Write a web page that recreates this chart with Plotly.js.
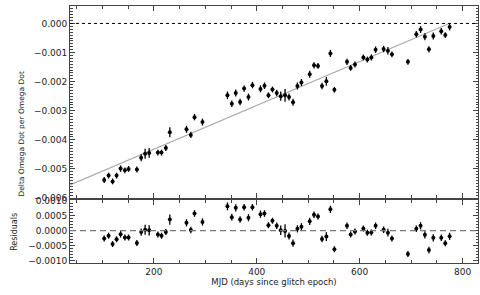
<!DOCTYPE html>
<html>
<head>
<meta charset="utf-8">
<script src="https://cdn.plot.ly/plotly-3.0.1.min.js"></script>
<style>html,body{margin:0;padding:0;background:#fff;}#chart{width:480px;height:295px;}</style>
</head>
<body>
<div id="chart"></div>
<script>
// MJD (days since glitch epoch)
const mjd = [103.5,112,119.8,127.5,135.3,143.7,150.8,167,175.3,183,190.9,207.8,214.9,223.3,231,263.4,271.8,279,294.5,
  343,351.5,359.2,367.6,375.4,383.9,391.6,407.2,415,422.7,430.5,
  438.8,446.6,455,462.7,470.5,479,486.8,
  502.9,511.3,519,526.8,535.3,543.1,550.9,
  575.4,582.5,590.9,607.2,615,622.7,631,
  646.6,654.9,662.7,
  693.8,710.1,718.4,726.8,734.6,743.1,
  758.6,766.4,774.8];
// Delta Omega Dot per Omega Dot
const dOmegaDot = [-0.00538,-0.00523,-0.00543,-0.00523,-0.00499,-0.00505,-0.00500,-0.00502,-0.00462,-0.00448,-0.00445,-0.00444,-0.00444,-0.00428,-0.00374,-0.00364,-0.00383,-0.00322,-0.00339,
  -0.00247,-0.00276,-0.00239,-0.00270,-0.00224,-0.00253,-0.00212,-0.00225,-0.00214,-0.00247,-0.00227,
  -0.00239,-0.00250,-0.00247,-0.00253,-0.00271,-0.00215,-0.00203,
  -0.00175,-0.00144,-0.00146,-0.00215,-0.00199,-0.00103,-0.00228,
  -0.00132,-0.00153,-0.00141,-0.00117,-0.00124,-0.00117,-0.00090,
  -0.00088,-0.00094,-0.00106,
  -0.00132,-0.00037,-0.00021,-0.00046,-0.00089,-0.00043,
  -0.00027,-0.00040,-0.00012];
// Residuals
const residuals = [-0.00026,-0.00017,-0.00045,-0.00029,-0.00012,-0.00023,-0.00023,-0.00041,-0.00005,0.00003,0.00001,-0.00013,-0.00017,-0.00005,0.00037,0.00026,0.00002,0.00057,0.00029,
  0.00081,0.00045,0.00076,0.00037,0.00078,0.00043,0.00078,0.00055,0.00057,0.00018,0.00033,
  0.00016,0.00001,-0.00001,-0.00018,-0.00042,0.00006,0.00013,
  0.00031,0.00053,0.00047,-0.00028,-0.00020,0.00071,-0.00062,
  0.00016,-0.00013,-0.00003,0.00007,-0.00007,-0.00006,0.00016,
  0.00003,-0.00007,-0.00026,
  -0.00078,0.00006,0.00016,-0.00014,-0.00065,-0.00024,
  -0.00024,-0.00042,-0.00019];
// 1-sigma uncertainties
const errors = [0.0001,0.0001,0.0001,0.0001,0.00011,0.0001,0.0001,0.0001,0.00012,0.00017,0.00017,0.0001,0.0001,0.0001,0.00017,0.00012,0.00011,0.00011,0.00012,
  0.00013,0.00011,0.00012,0.00011,0.00011,0.00012,0.00011,0.00012,0.00011,0.0001,0.0001,
  0.00011,0.00016,0.00022,0.00012,0.00012,0.00012,0.00012,
  0.00012,0.00011,0.0001,0.00011,0.00015,0.00012,0.0001,
  0.00011,0.0001,0.0001,0.0001,0.0001,0.0001,0.00011,
  0.00011,0.00013,0.0001,
  0.0001,0.00011,0.00012,0.00012,0.00011,0.00012,
  0.00011,0.0001,0.00012];
// linear fit line end points
const fitX = [37, 774];
const fitY = [-0.00555, 0.0];

const font = {family: 'DejaVu Sans, sans-serif', size: 9, color: '#222'};
const axisBase = {
  showline: true, linecolor: '#444', linewidth: 1, mirror: 'allticks',
  ticks: 'inside', ticklen: 5, tickcolor: '#444', tickwidth: 1,
  showgrid: false, zeroline: false, tickfont: font
};

const traces = [
  {x: fitX, y: fitY, xaxis: 'x', yaxis: 'y', mode: 'lines', line: {color: '#aaaaaa', width: 1.2}, hoverinfo: 'skip'},
  {x: mjd, y: dOmegaDot, xaxis: 'x', yaxis: 'y', mode: 'markers',
   marker: {color: '#000', size: 4, symbol: 'circle'},
   error_y: {type: 'data', array: errors, visible: true, color: '#000', thickness: 1.3, width: 0}},
  {x: mjd, y: residuals, xaxis: 'x2', yaxis: 'y2', mode: 'markers',
   marker: {color: '#000', size: 4, symbol: 'circle'},
   error_y: {type: 'data', array: errors, visible: true, color: '#000', thickness: 1.3, width: 0}}
];

const layout = {
  width: 480, height: 295,
  margin: {l: 70, r: 2, t: 6, b: 32},
  paper_bgcolor: '#fff', plot_bgcolor: '#fff',
  showlegend: false, font: font,
  xaxis: Object.assign({}, axisBase, {domain: [0, 1], range: [37, 830], anchor: 'y', dtick: 200, tick0: 0, showticklabels: false,
    minor: {dtick: 50, ticks: 'inside', ticklen: 3, tickcolor: '#444'}}),
  yaxis: Object.assign({}, axisBase, {domain: [0.2529, 1], range: [-0.006, 0.0006], anchor: 'x', dtick: 0.001, tick0: 0, tickformat: '.3f',
    minor: {dtick: 0.0001, ticks: 'inside', ticklen: 2.5, tickcolor: '#444'}}),
  xaxis2: Object.assign({}, axisBase, {domain: [0, 1], range: [37, 830], anchor: 'y2', dtick: 200, tick0: 0,
    minor: {dtick: 50, ticks: 'inside', ticklen: 3, tickcolor: '#444'},
    title: {text: 'MJD (days since glitch epoch)', font: {family: 'DejaVu Sans, sans-serif', size: 8.5, color: '#222'}, standoff: 2}}),
  yaxis2: Object.assign({}, axisBase, {domain: [0, 0.245], range: [-0.00108, 0.00102], anchor: 'x2', dtick: 0.0005, tick0: 0, tickformat: '.4f',
    minor: {dtick: 0.0001, ticks: 'inside', ticklen: 2.5, tickcolor: '#444'}}),
  shapes: [
    {type: 'line', xref: 'x domain', yref: 'y', x0: 0, x1: 1, y0: 0, y1: 0, line: {color: '#000', width: 1, dash: 'dot'}},
    {type: 'line', xref: 'x2 domain', yref: 'y2', x0: 0, x1: 1, y0: 0, y1: 0, line: {color: '#777', width: 1.2, dash: '6px,4px'}}
  ],
  annotations: [
    {text: 'Delta Omega Dot per Omega Dot', xref: 'paper', yref: 'paper', x: -0.12, y: 0.50, textangle: -90, showarrow: false,
     xanchor: 'center', yanchor: 'middle', font: {family: 'DejaVu Sans, sans-serif', size: 7.5, color: '#222'}},
    {text: 'Residuals', xref: 'paper', yref: 'paper', x: -0.138, y: 0.12, textangle: -90, showarrow: false,
     xanchor: 'center', yanchor: 'middle', font: {family: 'DejaVu Sans, sans-serif', size: 8, color: '#222'}}
  ]
};

Plotly.newPlot('chart', traces, layout, {staticPlot: true, displayModeBar: false});
</script>
</body>
</html>
